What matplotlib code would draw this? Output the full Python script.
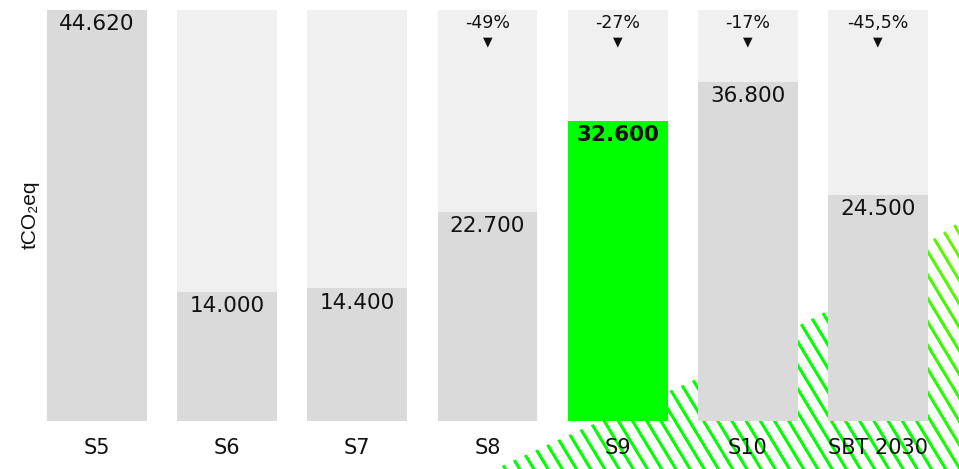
import numpy as np
import matplotlib.pyplot as plt
from matplotlib.collections import LineCollection
from matplotlib.colors import LinearSegmentedColormap
from matplotlib.patches import Polygon

# data
categories = ["S5", "S6", "S7", "S8", "S9", "S10", "SBT 2030"]
values = [44620, 14000, 14400, 22700, 32600, 36800, 24500]
value_labels = ["44.620", "14.000", "14.400", "22.700", "32.600", "36.800", "24.500"]
pct_labels = ["", "", "", "-49%", "-27%", "-17%", "-45,5%"]
highlight = "S9"
baseline = 44620

W, H = 959, 469
fig = plt.figure(figsize=(W / 100, H / 100), dpi=100)

# background decoration: diagonal green stripes, bottom right
bg = fig.add_axes([0, 0, 1, 1], zorder=0)
bg.set_xlim(0, W)
bg.set_ylim(H, 0)
bg.axis("off")
edge = [(495, 469), (580, 430), (690, 382), (823, 313), (959, 222), (959, 469)]
clip = Polygon(edge, closed=True, facecolor="none", edgecolor="none")
bg.add_patch(clip)
dx, dy = 26, 43
starts = np.arange(480, 1260, 14.2)
segs = [[(c, H + 5), (c - (H + 5) * dx / dy, 0)] for c in starts]
cmap = LinearSegmentedColormap.from_list("g", ["#00ff00", "#00ff00", "#aaf000"])
cols = cmap(np.clip((starts - 650) / 560, 0, 1))
lc = LineCollection(segs, colors=cols, linewidths=2.2)
lc.set_clip_path(clip)
bg.add_collection(lc)

# main chart
ax = fig.add_axes([47 / W, 48 / H, (928 - 47) / W, (421 - 10) / H], zorder=1)
ax.patch.set_alpha(0)
x = np.arange(len(categories))
bw = 0.766
ax.bar(x, [baseline] * len(x), width=bw, color="#f0f0f0", zorder=1)
colors = ["#00ff00" if c == highlight else "#dadada" for c in categories]
ax.bar(x, values, width=bw, color=colors, zorder=2)

for i, (v, lab) in enumerate(zip(values, value_labels)):
    bold = categories[i] == highlight
    ax.annotate(lab, (x[i], v), xytext=(0, -3), textcoords="offset points",
                ha="center", va="top", fontsize=15.5, color="#111111",
                fontweight="bold" if bold else "normal", zorder=3)
    if pct_labels[i]:
        ax.annotate(pct_labels[i], (x[i], baseline), xytext=(0, -3),
                    textcoords="offset points", ha="center", va="top",
                    fontsize=12.5, color="#111111", zorder=3)
        ax.annotate("▼", (x[i], baseline), xytext=(0, -18),
                    textcoords="offset points", ha="center", va="top",
                    fontsize=9, color="#111111", zorder=3)

ax.set_xlim(-bw / 2, len(x) - 1 + bw / 2)
ax.set_ylim(0, baseline)
ax.set_xticks(x)
ax.set_xticklabels(categories, fontsize=15, color="#111111")
ax.tick_params(axis="x", length=0, pad=12)
ax.set_yticks([])
for s in ax.spines.values():
    s.set_visible(False)

fig.text(30 / W, 1 - 215 / H, "tCO₂eq", rotation=90, ha="center", va="center",
         fontsize=15, family="Liberation Sans", color="#111111")

fig.savefig("out.png", dpi=100)
